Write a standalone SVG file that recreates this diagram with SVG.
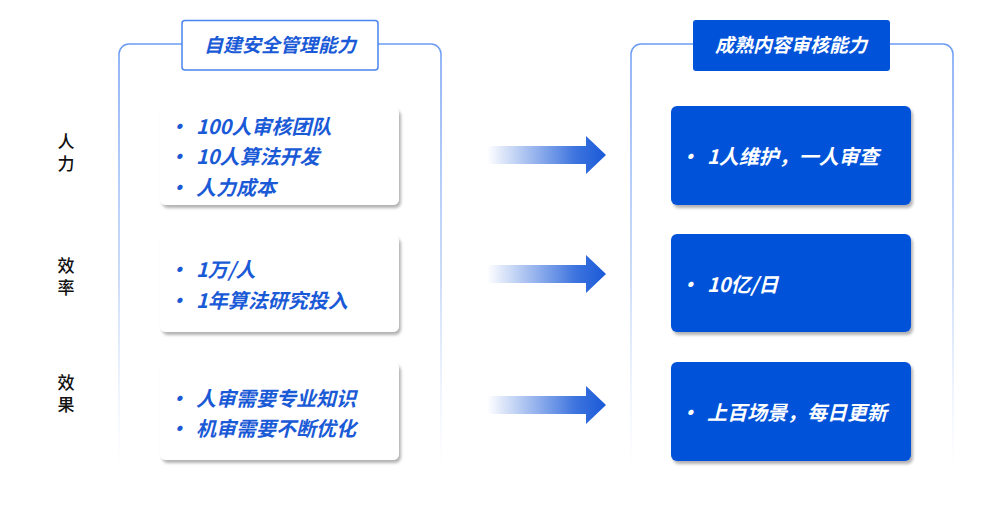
<svg xmlns="http://www.w3.org/2000/svg" width="1000" height="505" viewBox="0 0 1000 505">
<defs>
<linearGradient id="panelFade" gradientUnits="userSpaceOnUse" x1="0" y1="44" x2="0" y2="470">
<stop offset="0" stop-color="#6a9bf2" stop-opacity="1"/>
<stop offset="0.55" stop-color="#9dbdf5" stop-opacity="0.7"/>
<stop offset="1" stop-color="#c8daf9" stop-opacity="0"/>
</linearGradient>
<linearGradient id="arrowGrad" x1="0" y1="0" x2="1" y2="0">
<stop offset="0" stop-color="#1a5ad8" stop-opacity="0"/>
<stop offset="0.75" stop-color="#1a5ad8" stop-opacity="0.85"/>
<stop offset="1" stop-color="#1a5ad8" stop-opacity="1"/>
</linearGradient>
<filter id="shadow" x="-10%" y="-20%" width="125%" height="145%">
<feDropShadow dx="2" dy="3" stdDeviation="1.6" flood-color="#000" flood-opacity="0.3"/>
</filter>
</defs>
<style>
.panel{fill:none;stroke:url(#panelFade);stroke-width:1.5}
.side{font-family:"Noto Sans CJK SC",sans-serif;font-size:17px;font-weight:500;fill:#111;writing-mode:vertical-rl;letter-spacing:5px}
.ltitle{fill:#fff;stroke:#4a84ee;stroke-width:1.5}
.rtitle{fill:#0052d9}
.ttl{font-family:"Noto Sans CJK SC",sans-serif;font-size:19px;font-weight:bold;font-style:italic;text-anchor:middle}
.lcard{fill:#fff;filter:url(#shadow)}
.rcard{fill:#0052d9;filter:url(#shadow)}
.lt{font-family:"Noto Sans CJK SC",sans-serif;font-size:20px;font-weight:bold;font-style:italic;fill:#1a5ad6}
.rt{font-family:"Noto Sans CJK SC",sans-serif;font-size:20px;font-weight:bold;font-style:italic;fill:#fff}
.arrow{fill:url(#arrowGrad)}
</style>
<rect width="1000" height="505" fill="#fff"/>

<g id="panel-left">
<path class="panel" d="M119,470 V54 a10,10 0 0 1 10,-10 H431 a10,10 0 0 1 10,10 V470"/>
<rect class="ltitle" x="182" y="20.5" width="196" height="49.5" rx="3"/>
<text class="ttl" x="280" y="52" fill="#1a5ad6">自建安全管理能力</text>
</g>
<g id="panel-right">
<path class="panel" d="M631,470 V54 a10,10 0 0 1 10,-10 H943 a10,10 0 0 1 10,10 V470"/>
<rect class="rtitle" x="693" y="20" width="197" height="51" rx="3"/>
<text class="ttl" x="791" y="52" fill="#fff">成熟内容审核能力</text>
</g>

<g id="label-renli">
<text class="side" x="66" y="133.5">人力</text>
</g>
<g id="label-xiaolv">
<text class="side" x="66" y="257.5">效率</text>
</g>
<g id="label-xiaoguo">
<text class="side" x="66" y="374.5">效果</text>
</g>

<g id="card-left-1">
<rect class="lcard" x="160" y="107" width="239" height="98" rx="6"/>
<text class="lt" x="168" y="134">•</text><text class="lt" x="196" y="134">100人审核团队</text>
<text class="lt" x="168" y="164">•</text><text class="lt" x="196" y="164">10人算法开发</text>
<text class="lt" x="168" y="195">•</text><text class="lt" x="196" y="195">人力成本</text>
</g>
<g id="card-left-2">
<rect class="lcard" x="160" y="235" width="239" height="97" rx="6"/>
<text class="lt" x="168" y="277">•</text><text class="lt" x="196" y="277">1万/人</text>
<text class="lt" x="168" y="308">•</text><text class="lt" x="196" y="308">1年算法研究投入</text>
</g>
<g id="card-left-3">
<rect class="lcard" x="160" y="362" width="239" height="98" rx="6"/>
<text class="lt" x="168" y="406">•</text><text class="lt" x="196" y="406">人审需要专业知识</text>
<text class="lt" x="168" y="436">•</text><text class="lt" x="196" y="436">机审需要不断优化</text>
</g>

<g id="card-right-1">
<rect class="rcard" x="671" y="106" width="240" height="99" rx="6"/>
<text class="rt" x="679" y="164">•</text><text class="rt" x="707" y="164">1人维护，一人审查</text>
</g>
<g id="card-right-2">
<rect class="rcard" x="671" y="234" width="240" height="98" rx="6"/>
<text class="rt" x="679" y="292">•</text><text class="rt" x="707" y="292">10亿/日</text>
</g>
<g id="card-right-3">
<rect class="rcard" x="671" y="362" width="240" height="99" rx="6"/>
<text class="rt" x="679" y="420">•</text><text class="rt" x="707" y="420">上百场景，每日更新</text>
</g>

<g id="connectors">
<polygon class="arrow" points="487,146 586,146 586,136 606,155 586,174 586,164 487,164"/>
<polygon class="arrow" points="487,265 586,265 586,255 606,274 586,293 586,283 487,283"/>
<polygon class="arrow" points="487,396 586,396 586,386 606,405 586,424 586,414 487,414"/>
</g>
</svg>
